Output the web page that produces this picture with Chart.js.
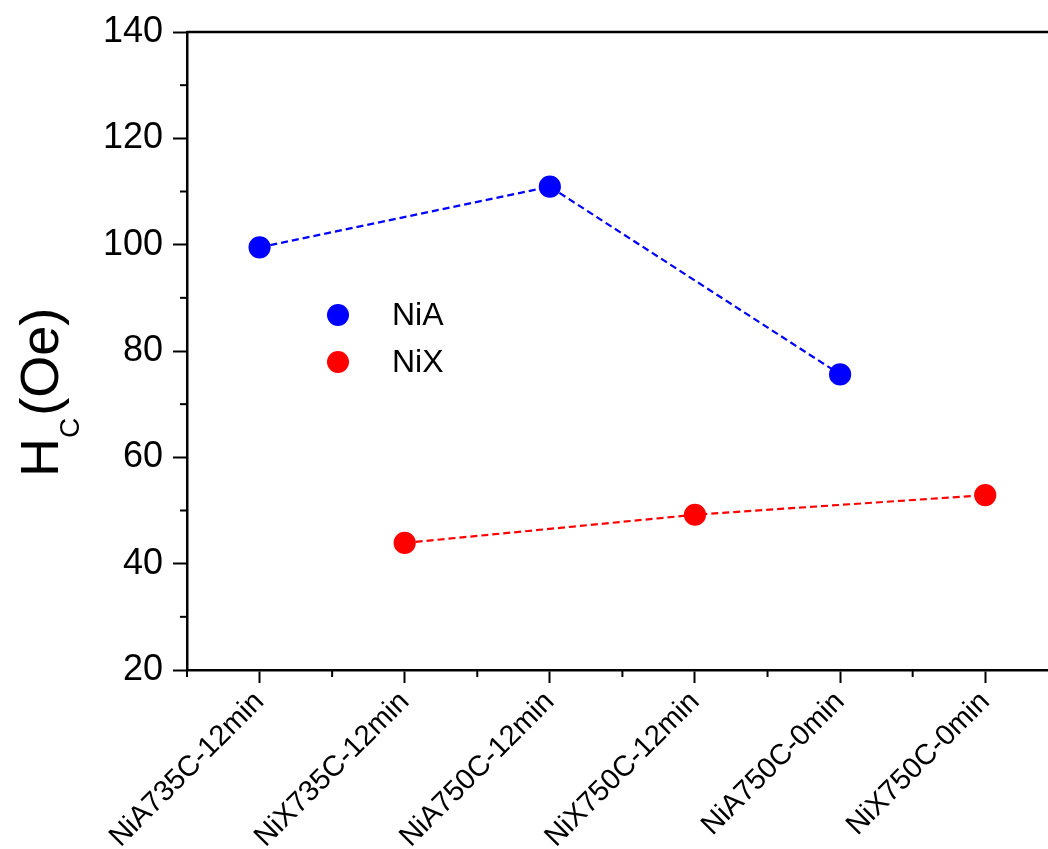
<!DOCTYPE html>
<html>
<head>
<meta charset="utf-8">
<script src="https://cdn.jsdelivr.net/npm/chart.js@4"></script>
<style>
html, body { margin: 0; padding: 0; background: #fff; overflow: hidden; }
#myChart { display: block; width: 1070px; height: 849px; }
</style>
</head>
<body>
<canvas id="myChart" width="1070" height="849"></canvas>
<script>
// Daten
const categories = ['NiA735C-12min', 'NiX735C-12min', 'NiA750C-12min', 'NiX750C-12min', 'NiA750C-0min', 'NiX750C-0min'];
const niaValues = [99.5, null, 110.9, null, 75.6, null];
const nixValues = [null, 43.9, null, 49.2, null, 52.9];
const seriesLabels = ['NiA', 'NiX'];

const FONT = '"Liberation Sans", Arial, sans-serif';

// Rahmen, Nebenstriche, Achsentitel und Legende
const extras = {
    id: 'extras',
    afterDraw(chart) {
        const ctx = chart.ctx;
        const a = chart.chartArea;
        const xs = chart.scales.x;
        const ys = chart.scales.y;
        ctx.save();
        ctx.strokeStyle = '#000';
        ctx.lineWidth = 2.5;
        ctx.beginPath();
        ctx.moveTo(a.left, a.top);
        ctx.lineTo(a.right, a.top);
        ctx.lineTo(a.right, a.bottom);
        ctx.stroke();

        // Nebenstriche y
        ctx.lineWidth = 2;
        for (let v = ys.min + 10; v < ys.max; v += 20) {
            const py = ys.getPixelForValue(v);
            ctx.beginPath();
            ctx.moveTo(a.left - 7, py);
            ctx.lineTo(a.left, py);
            ctx.stroke();
        }
        // Nebenstriche x
        for (let i = 0; i <= categories.length; i++) {
            const px = xs.getPixelForValue(i - 0.5);
            ctx.beginPath();
            ctx.moveTo(px, a.bottom);
            ctx.lineTo(px, a.bottom + 7);
            ctx.stroke();
        }

        // Achsentitel H_C(Oe)
        ctx.fillStyle = '#000';
        ctx.translate(58, 477);
        ctx.rotate(-Math.PI / 2);
        ctx.textAlign = 'left';
        ctx.textBaseline = 'alphabetic';
        ctx.font = '54px ' + FONT;
        ctx.fillText('H', 0, 0);
        let w = ctx.measureText('H').width;
        ctx.font = '28px ' + FONT;
        ctx.fillText('C', w, 21);
        w += ctx.measureText('C').width + 2;
        ctx.font = '54px ' + FONT;
        ctx.fillText('(Oe)', w, 0);
        ctx.restore();

        // Legende
        ctx.save();
        const lx = a.left + 151;
        let ly = a.top + 283;
        chart.data.datasets.forEach(ds => {
            ctx.fillStyle = ds.pointBackgroundColor;
            ctx.beginPath();
            ctx.arc(lx, ly, 11, 0, Math.PI * 2);
            ctx.fill();
            ctx.fillStyle = '#000';
            ctx.font = '32px ' + FONT;
            ctx.textBaseline = 'middle';
            ctx.textAlign = 'left';
            ctx.fillText(ds.label, lx + 54, ly + 1);
            ly += 47;
        });
        ctx.restore();
    }
};

const ctx = document.getElementById('myChart').getContext('2d');
const myChart = new Chart(ctx, {
    type: 'line',
    data: {
        labels: categories,
        datasets: [
            {
                label: seriesLabels[0],
                data: niaValues,
                borderColor: '#0000ff',
                pointBackgroundColor: '#0000ff',
                pointBorderColor: '#0000ff',
                borderWidth: 2.2,
                borderDash: [7, 4],
                pointRadius: 10,
                spanGaps: true,
                fill: false
            },
            {
                label: seriesLabels[1],
                data: nixValues,
                borderColor: '#ff0000',
                pointBackgroundColor: '#ff0000',
                pointBorderColor: '#ff0000',
                borderWidth: 2.2,
                borderDash: [7, 4],
                pointRadius: 10,
                spanGaps: true,
                fill: false
            }
        ]
    },
    options: {
        responsive: false,
        animation: false,
        layout: { padding: { top: 32, right: 3, left: 0, bottom: 0 } },
        scales: {
            x: {
                type: 'category',
                offset: true,
                grid: { drawOnChartArea: false, tickLength: 13, tickWidth: 2, tickColor: '#000' },
                border: { color: '#000', width: 2.5 },
                ticks: {
                    minRotation: 45,
                    maxRotation: 45,
                    color: '#000',
                    padding: 2,
                    font: { size: 29, family: FONT }
                },
                afterFit: s => { s.height = 179; }
            },
            y: {
                min: 20,
                max: 140,
                grid: { drawOnChartArea: false, tickLength: 14, tickWidth: 2, tickColor: '#000' },
                border: { color: '#000', width: 2.5 },
                ticks: {
                    stepSize: 20,
                    color: '#000',
                    padding: 10,
                    font: { size: 36, family: FONT }
                },
                afterFit: s => { s.width = 187; }
            }
        },
        plugins: {
            legend: { display: false },
            tooltip: { enabled: false }
        }
    },
    plugins: [extras]
});
</script>
</body>
</html>
